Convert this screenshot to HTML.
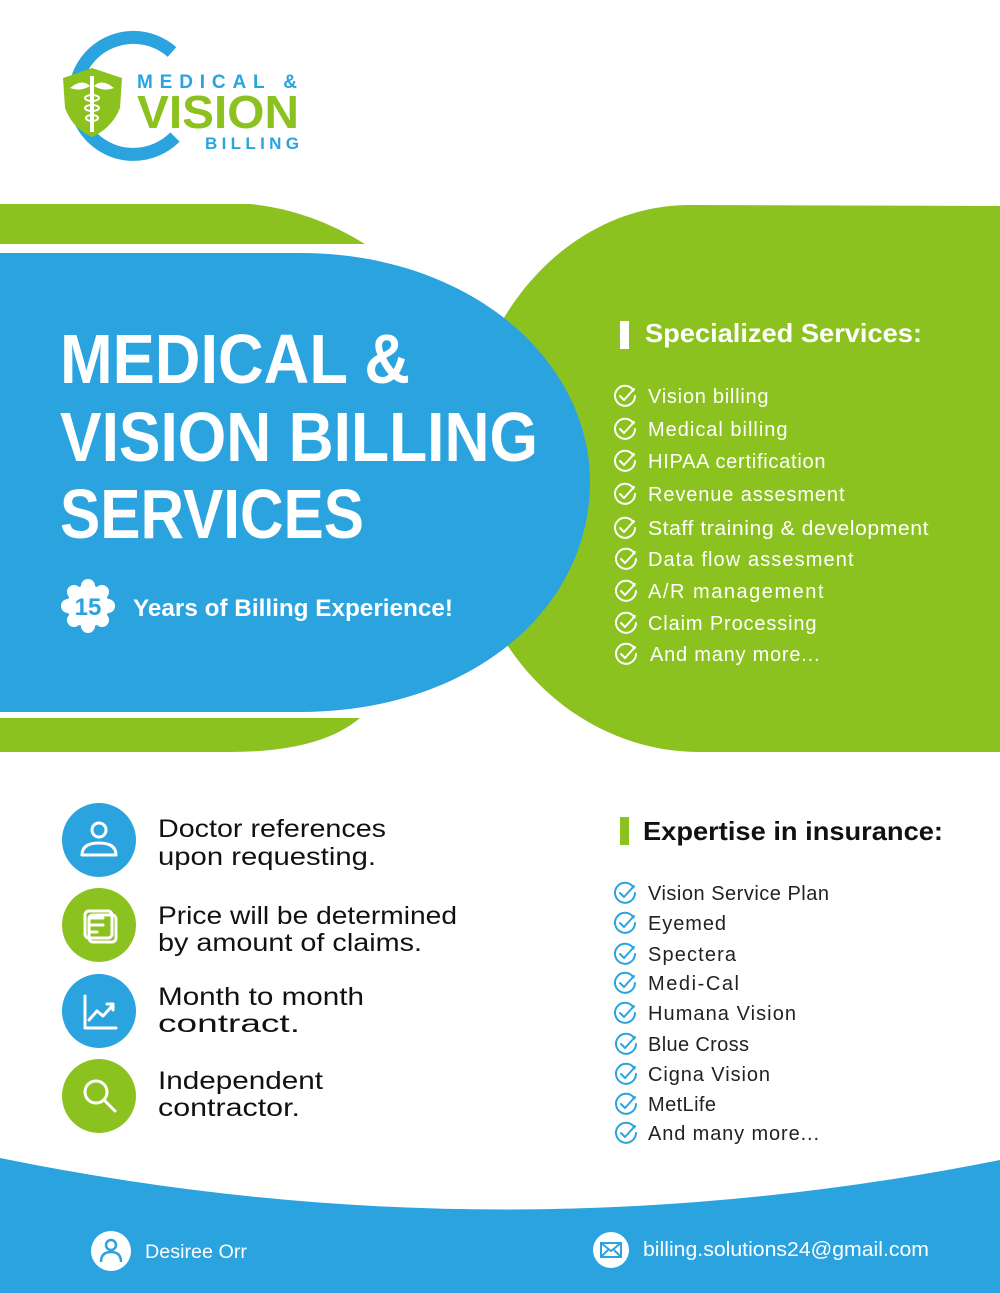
<!DOCTYPE html>
<html><head><meta charset="utf-8"><style>
html,body{margin:0;padding:0;background:#fff}
svg{display:block}
text{font-family:"Liberation Sans",sans-serif}
</style></head><body>
<svg width="1000" height="1293" viewBox="0 0 1000 1293" xmlns="http://www.w3.org/2000/svg">
<defs>
<g id="chk" fill="none" stroke-width="2" stroke-linecap="round" stroke-linejoin="round">
<path d="M8.5,-5.5 A10,10 0 1 0 10,0"/>
<path d="M-5,0 L-1,4 L9,-7"/>
</g>
</defs>
<!-- logo -->
<path d="M172,52 A58.5,58.5 0 1 0 175,137" fill="none" stroke="#2aa3df" stroke-width="13"/>
<path d="M63,78 L92,68 L122,78 L120,108 Q112,128 92,137 Q72,128 65,108 Z" fill="#8cc220"/>
<g fill="#fff"><rect x="90" y="76" width="4" height="56"/><path d="M70,88 Q82,78 90,86 Q80,92 70,88Z M114,88 Q102,78 94,86 Q104,92 114,88Z"/><ellipse cx="92" cy="98" rx="7" ry="3" fill="none" stroke="#fff" stroke-width="2"/><ellipse cx="92" cy="108" rx="7" ry="3" fill="none" stroke="#fff" stroke-width="2"/><ellipse cx="92" cy="118" rx="6" ry="3" fill="none" stroke="#fff" stroke-width="2"/></g>
<text x="137" y="88" font-size="19" font-weight="bold" fill="#2aa3df" textLength="160" lengthAdjust="spacing">MEDICAL &amp;</text>
<text x="137" y="128" font-size="46" font-weight="bold" fill="#8cc220" textLength="162" lengthAdjust="spacingAndGlyphs">VISION</text>
<text x="205" y="149" font-size="17" font-weight="bold" fill="#2aa3df" textLength="94" lengthAdjust="spacing">BILLING</text>
<!-- shapes -->
<path d="M0,204 L250,204 Q310,210 365,244 L0,244 Z" fill="#8cc220"/>
<path d="M0,718 L360,718 Q320,752 230,752 L0,752 Z" fill="#8cc220"/>
<path d="M1000,206 L690,205 C560,205 460,330 460,480 C460,640 570,752 700,752 L1000,752 Z" fill="#8cc220"/>
<path d="M0,253 L300,253 C470,253 590,360 590,482 C590,610 470,712 300,712 L0,712 Z" fill="#2aa3df"/>
<path d="M0,1158 Q500,1260 1000,1160 L1000,1293 L0,1293 Z" fill="#2aa3df"/>
<!-- title -->
<g fill="#fff" font-weight="bold" font-size="70">
<text x="60" y="383" textLength="350" lengthAdjust="spacingAndGlyphs">MEDICAL &amp;</text>
<text x="60" y="461" textLength="478" lengthAdjust="spacingAndGlyphs">VISION BILLING</text>
<text x="60" y="538" textLength="304" lengthAdjust="spacingAndGlyphs">SERVICES</text>
</g>
<g transform="translate(88,606)" fill="#fff">
<circle r="21"/><circle cx="0" cy="-20" r="7"/><circle cx="0" cy="20" r="7"/><circle cx="-20" cy="0" r="7"/><circle cx="20" cy="0" r="7"/><circle cx="14" cy="14" r="7"/><circle cx="-14" cy="14" r="7"/><circle cx="14" cy="-14" r="7"/><circle cx="-14" cy="-14" r="7"/>
<text x="0" y="9" font-size="24" font-weight="bold" fill="#2aa3df" text-anchor="middle">15</text>
</g>
<text x="133" y="616" font-size="24" font-weight="bold" fill="#fff" textLength="320" lengthAdjust="spacingAndGlyphs">Years of Billing Experience!</text>
<!-- specialized -->
<rect x="620" y="321" width="9" height="28" fill="#fff"/>
<text x="645" y="342" font-size="26" font-weight="bold" fill="#fff" textLength="277" lengthAdjust="spacingAndGlyphs">Specialized Services:</text>
<g fill="#fff" font-size="20" letter-spacing="0.5">
<text x="648" y="403" textLength="121">Vision billing</text>
<text x="648" y="436" textLength="140">Medical billing</text>
<text x="648" y="468" textLength="178">HIPAA certification</text>
<text x="648" y="501" textLength="197">Revenue assesment</text>
<text x="648" y="535" textLength="281" lengthAdjust="spacingAndGlyphs">Staff training &amp; development</text>
<text x="648" y="566" textLength="206">Data flow assesment</text>
<text x="648" y="598" textLength="176">A/R management</text>
<text x="648" y="630" textLength="169">Claim Processing</text>
<text x="650" y="661" textLength="170">And many more...</text>
</g>
<g stroke="#fff">
<use href="#chk" x="625" y="396"/><use href="#chk" x="625" y="429"/><use href="#chk" x="625" y="461"/><use href="#chk" x="625" y="494"/><use href="#chk" x="625" y="528"/><use href="#chk" x="626" y="559"/><use href="#chk" x="626" y="591"/><use href="#chk" x="626" y="623"/><use href="#chk" x="626" y="654"/>
</g>
<!-- expertise -->
<rect x="620" y="817" width="9" height="28" fill="#8cc220"/>
<text x="643" y="840" font-size="26" font-weight="bold" fill="#111" textLength="300" lengthAdjust="spacingAndGlyphs">Expertise in insurance:</text>
<g fill="#222" font-size="20">
<text x="648" y="900" textLength="181">Vision Service Plan</text>
<text x="648" y="930" textLength="78">Eyemed</text>
<text x="648" y="961" textLength="88">Spectera</text>
<text x="648" y="990" textLength="91">Medi-Cal</text>
<text x="648" y="1020" textLength="148">Humana Vision</text>
<text x="648" y="1051" textLength="101">Blue Cross</text>
<text x="648" y="1081" textLength="122">Cigna Vision</text>
<text x="648" y="1111" textLength="68">MetLife</text>
<text x="648" y="1140" textLength="171">And many more...</text>
</g>
<g stroke="#2aa3df">
<use href="#chk" x="625" y="893"/><use href="#chk" x="625" y="923"/><use href="#chk" x="625" y="954"/><use href="#chk" x="625" y="983"/><use href="#chk" x="625" y="1013"/><use href="#chk" x="626" y="1044"/><use href="#chk" x="626" y="1074"/><use href="#chk" x="626" y="1104"/><use href="#chk" x="626" y="1133"/>
</g>
<!-- features -->
<circle cx="99" cy="840" r="37" fill="#2aa3df"/>
<circle cx="99" cy="925" r="37" fill="#8cc220"/>
<circle cx="99" cy="1011" r="37" fill="#2aa3df"/>
<circle cx="99" cy="1096" r="37" fill="#8cc220"/>
<g fill="none" stroke="#fff" stroke-width="3" stroke-linecap="round" stroke-linejoin="round">
<circle cx="99" cy="830" r="7"/><path d="M82,855 Q82,843 99,843 Q116,843 116,855 Z"/>
<rect x="85" y="911" width="27" height="27" rx="4"/><rect x="89" y="915" width="27" height="27" rx="4"/><path d="M91,918 h12 M91,925 h12 M91,932 h6"/>
<path d="M85,996 V1028 H116 M89,1020 L97,1011 L103,1016 L113,1005 M107,1004 h6 v6"/>
<circle cx="96" cy="1092" r="11"/><path d="M104,1100 L115,1111"/>
</g>
<g fill="#111" font-size="25">
<text x="158" y="837" textLength="228" lengthAdjust="spacingAndGlyphs">Doctor references</text>
<text x="158" y="865" textLength="218" lengthAdjust="spacingAndGlyphs">upon requesting.</text>
<text x="158" y="924" textLength="299" lengthAdjust="spacingAndGlyphs">Price will be determined</text>
<text x="158" y="951" textLength="264" lengthAdjust="spacingAndGlyphs">by amount of claims.</text>
<text x="158" y="1005" textLength="206" lengthAdjust="spacingAndGlyphs">Month to month</text>
<text x="158" y="1032" textLength="142" lengthAdjust="spacingAndGlyphs">contract.</text>
<text x="158" y="1089" textLength="165" lengthAdjust="spacingAndGlyphs">Independent</text>
<text x="158" y="1116" textLength="142" lengthAdjust="spacingAndGlyphs">contractor.</text>
</g>
<!-- footer -->
<circle cx="111" cy="1251" r="20" fill="#fff"/>
<g fill="none" stroke="#2aa3df" stroke-width="2.5"><circle cx="111" cy="1245" r="5"/><path d="M101,1262 Q101,1252 111,1252 Q121,1252 121,1262"/></g>
<text x="145" y="1258" font-size="19" fill="#fff" textLength="102" lengthAdjust="spacingAndGlyphs">Desiree Orr</text>
<circle cx="611" cy="1250" r="18" fill="#fff"/>
<g fill="none" stroke="#2aa3df" stroke-width="2"><rect x="601" y="1243" width="20" height="14"/><path d="M601,1243 L611,1251 L621,1243 M601,1257 L608,1250 M621,1257 L614,1250"/></g>
<text x="643" y="1256" font-size="20" fill="#fff" textLength="286" lengthAdjust="spacingAndGlyphs">billing.solutions24@gmail.com</text>
</svg>
</body></html>
